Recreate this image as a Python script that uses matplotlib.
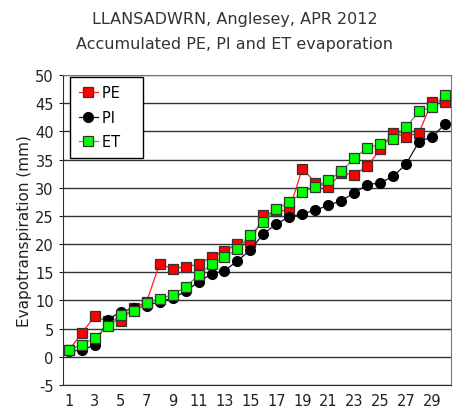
import matplotlib
matplotlib.use("Agg")
import matplotlib.pyplot as plt

plt.rcParams['axes.unicode_minus'] = False

days = list(range(1, 31))
pe = [1.2, 4.2, 7.2, 6.3, 6.4, 8.6, 9.8, 16.5, 15.6, 16.0,
      16.4, 17.8, 18.7, 20.1, 20.3, 25.1, 25.8, 26.1, 33.4, 30.9,
      30.1, 32.6, 32.3, 33.8, 36.8, 39.8, 39.0, 39.8, 45.3, 45.2]
pi = [1.0, 1.2, 2.1, 6.6, 8.0, 8.6, 9.1, 9.8, 10.4, 11.6,
      13.3, 14.7, 15.3, 17.0, 19.0, 21.8, 23.6, 24.8, 25.4, 26.0,
      26.9, 27.7, 29.1, 30.5, 30.9, 32.0, 34.2, 38.2, 39.0, 41.3]
et = [1.3, 2.1, 3.4, 5.5, 7.5, 8.2, 9.6, 10.3, 11.0, 12.4,
      14.5, 16.5, 17.7, 19.1, 21.7, 23.9, 26.3, 27.4, 29.2, 30.2,
      31.3, 32.9, 35.2, 37.1, 37.7, 38.7, 40.7, 43.6, 44.3, 46.4]

xticks = list(range(1, 30, 2))
yticks = list(range(-5, 51, 5))

fig = plt.figure(figsize=(4.69, 4.14), dpi=100)
ax = fig.add_axes([0.134, 0.0676, 0.8276, 0.7488])

edge = '#333333'
ax.plot(days, pe, color='#ff2020', lw=0.9, marker='s', ms=7.3,
        mfc='#ff0000', mec=edge, mew=0.9, label='PE', zorder=3)
ax.plot(days, pi, color='#101030', lw=0.9, marker='o', ms=7.0,
        mfc='black', mec='black', label='PI', zorder=4)
ax.plot(days, et, color='#20c020', lw=0.9, marker='s', ms=7.3,
        mfc='#00ff00', mec=edge, mew=0.9, label='ET', zorder=5)

ax.set_xlim(0.54, 30.46)
ax.set_ylim(-5, 50)
ax.set_xticks(xticks)
ax.set_yticks(yticks)
ax.tick_params(axis='both', labelsize=10.5, colors='#222222', length=3)
ax.tick_params(axis='x', length=0, pad=6)
ax.yaxis.grid(True, color='#333333', lw=1.0)
ax.set_axisbelow(True)
for side in ['left', 'bottom']:
    ax.spines[side].set_color('#2a2a50')
for side in ['right', 'top']:
    ax.spines[side].set_color('#777777')

ax.set_ylabel('Evapotranspiration (mm)', fontsize=11, color='#222222', labelpad=2)
fig.text(0.5, 0.952, 'LLANSADWRN, Anglesey, APR 2012', ha='center', va='center',
         fontsize=11.5, color='#333333')
fig.text(0.5, 0.893, 'Accumulated PE, PI and ET evaporation', ha='center', va='center',
         fontsize=11.5, color='#333333')

leg = ax.legend(loc='upper left', bbox_to_anchor=(0.018, 0.995), fontsize=10.5,
                fancybox=False, framealpha=1, edgecolor='black',
                handlelength=1.3, borderpad=0.6, labelspacing=0.65,
                handletextpad=0.3, borderaxespad=0.0)
leg.get_frame().set_linewidth(1.0)
# reference legend box is wider than its text
for t in leg.get_texts():
    t.set_text(t.get_text() + '   ')

fig.savefig('out.png', dpi=100)
